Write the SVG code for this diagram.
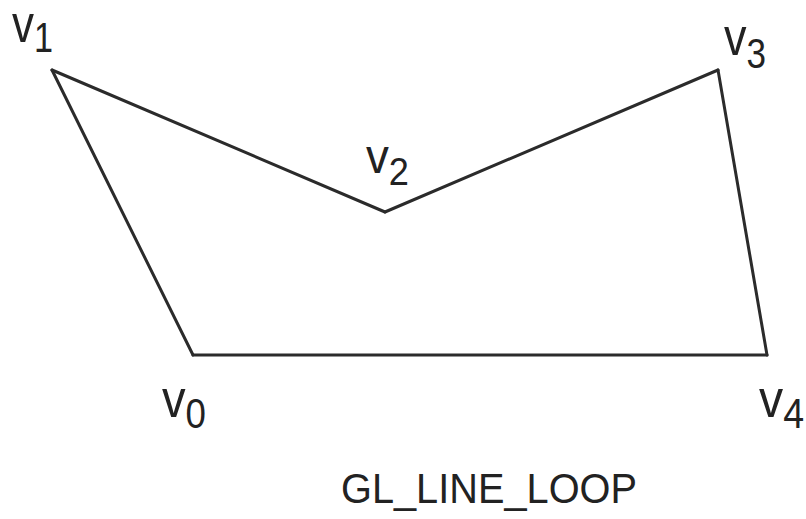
<svg xmlns="http://www.w3.org/2000/svg" width="806" height="519" viewBox="0 0 806 519">
<style>
.edge{stroke:#2b2b2b;stroke-width:3;stroke-linecap:round;fill:none}
.lbl{font-family:"Liberation Sans",Arial,sans-serif;fill:#222}
.v{font-size:54px}
.d{font-size:42px}
</style>
<rect width="806" height="519" fill="#ffffff"/>
<g id="connectors">
<line class="edge" x1="193" y1="355" x2="52" y2="70"/>
<line class="edge" x1="52" y1="70" x2="385" y2="212"/>
<line class="edge" x1="385" y1="212" x2="718" y2="70"/>
<line class="edge" x1="718" y1="70" x2="767" y2="355"/>
<line class="edge" x1="767" y1="355" x2="193" y2="355"/>
</g>
<g id="v0"><text class="lbl" x="162" y="417" textLength="44" lengthAdjust="spacingAndGlyphs"><tspan class="v">v</tspan><tspan class="d" dy="11">0</tspan></text></g>
<g id="v1"><text class="lbl" x="12" y="42" textLength="41" lengthAdjust="spacingAndGlyphs"><tspan class="v">v</tspan><tspan class="d" dy="10">1</tspan></text></g>
<g id="v2"><text class="lbl" x="366" y="173" textLength="43" lengthAdjust="spacingAndGlyphs"><tspan class="v" style="font-size:48px">v</tspan><tspan class="d" style="font-size:38px" dy="12">2</tspan></text></g>
<g id="v3"><text class="lbl" x="724" y="55" textLength="42" lengthAdjust="spacingAndGlyphs"><tspan class="v">v</tspan><tspan class="d" dy="13">3</tspan></text></g>
<g id="v4"><text class="lbl" x="759" y="417" textLength="45" lengthAdjust="spacingAndGlyphs"><tspan class="v">v</tspan><tspan class="d" dy="11">4</tspan></text></g>
<text class="lbl" x="341" y="503" font-size="43" textLength="296" lengthAdjust="spacingAndGlyphs">GL_LINE_LOOP</text>
</svg>
